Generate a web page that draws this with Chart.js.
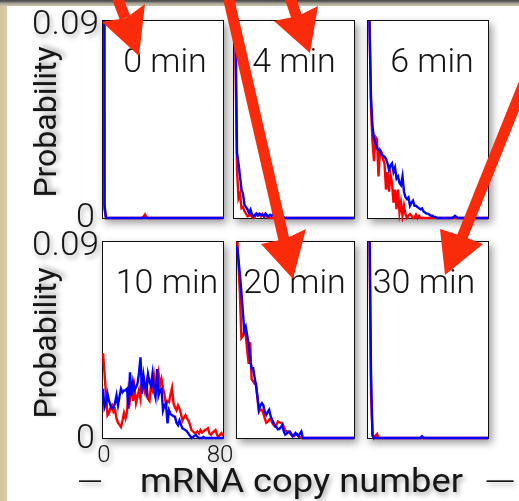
<!DOCTYPE html>
<html>
<head>
<meta charset="utf-8">
<script src="https://cdn.jsdelivr.net/npm/chart.js@4.4.1/dist/chart.umd.min.js"></script>
<style>
  html, body { margin: 0; padding: 0; }
  body { width: 519px; height: 501px; overflow: hidden; background: #fff; position: relative; }
  #topbar { position: absolute; left: 0; top: 0; width: 519px; height: 6px;
            background: linear-gradient(#474747 0px, #6a6a6a 2px, #a19b8c 3px, #cdc5ae 6px); }
  #leftbar { position: absolute; left: 0; top: 6px; width: 7px; height: 495px;
             background: linear-gradient(to right, #d2c199, #dccca9); }
  .frame { position: absolute; box-sizing: border-box; border: 1px solid #111; background: #fff;
           box-shadow: 3px 4px 8px rgba(0,0,0,0.4); }
  .frame canvas { position: absolute; left: -1px; top: -1px; }
  #overlay { position: absolute; left: 0; top: 0; }
</style>
</head>
<body>
<div id="topbar"></div>
<div id="leftbar"></div>
<div id="panels"></div>
<svg id="overlay" width="519" height="501" viewBox="0 0 519 501">
  <defs>
    <filter id="soft" x="-30%" y="-30%" width="160%" height="180%">
      <feDropShadow dx="2" dy="3" stdDeviation="2.5" flood-color="#000" flood-opacity="0.35"/>
    </filter>
  </defs>
  <g id="labels" font-family="Roboto, 'Liberation Sans', sans-serif" font-weight="300" fill="#141414"></g>
  <!-- red call-out arrows pasted over the slide -->
  <g id="arrows">
    <g stroke="#f92b0b" stroke-width="11" stroke-linecap="butt">
      <line x1="116" y1="-6" x2="125" y2="18"/>
      <line x1="289" y1="-6" x2="297" y2="18"/>
      <line x1="228" y1="-4" x2="284" y2="240"/>
      <line x1="560" y1="-6" x2="461" y2="240"/>
    </g>
    <g fill="#f92b0b">
      <polygon points="102,22 126,18 145,4 139,56"/>
      <polygon points="274,21 298,16 318,6 310,53"/>
      <polygon points="261,244 285,239 306,229 293,279"/>
      <polygon points="440,229 462,236 483,244 445,275"/>
    </g>
  </g>
</svg>

<script>
// ── DATA ─────────────────────────────────────────────
// x = mRNA copy number 0..80, y = probability (red / blue curves)
const copyNumbers = [];
for (let n = 0; n <= 80; n++) copyNumbers.push(n);

const panelTimes = [0, 4, 6, 10, 20, 30];   // minutes
const yTickLabels = ['0.09', '0'];
const xTickLabels = ['0', '80'];
const yAxisTitle = 'Probability';
const xAxisTitle = 'mRNA copy number';

const red0 = [
  0.9, 0.004, 0, 0, 0, 0, 0, 0, 0, 0,
  0, 0, 0, 0, 0, 0, 0, 0, 0, 0,
  0, 0, 0, 0, 0, 0, 0, 0.0006, 0.0016, 0.0004,
  0, 0, 0, 0, 0, 0, 0, 0, 0, 0,
  0, 0, 0, 0, 0, 0, 0, 0, 0, 0,
  0, 0, 0, 0, 0, 0, 0, 0, 0, 0,
  0, 0, 0, 0, 0, 0, 0, 0, 0, 0,
  0, 0, 0, 0, 0, 0, 0, 0, 0, 0,
  0
];
const blue0 = [
  0.9, 0.006, 0, 0, 0, 0, 0, 0, 0, 0,
  0, 0, 0, 0, 0, 0, 0, 0, 0, 0,
  0, 0, 0, 0, 0, 0, 0, 0, 0, 0,
  0, 0, 0, 0, 0, 0, 0, 0, 0, 0,
  0, 0, 0, 0, 0, 0, 0, 0, 0, 0,
  0, 0, 0, 0, 0, 0, 0, 0, 0, 0,
  0, 0, 0, 0, 0, 0, 0, 0, 0, 0,
  0, 0, 0, 0, 0, 0, 0, 0, 0, 0,
  0
];

const red4 = [
  0.6, 0.07, 0.022, 0.009, 0.011, 0.0045, 0.005, 0.003, 0.002, 0.0008,
  0.001, 0.0015, 0.0005, 0, 0.0005, 0.002, 0.0012, 0.0015, 0.0008, 0.0018,
  0.0005, 0.0012, 0.0005, 0, 0, 0, 0, 0, 0, 0,
  0, 0, 0, 0, 0, 0, 0, 0, 0, 0,
  0, 0, 0, 0, 0, 0, 0, 0, 0, 0,
  0, 0, 0, 0, 0, 0, 0, 0, 0, 0,
  0, 0, 0, 0, 0, 0, 0, 0, 0, 0,
  0, 0, 0, 0, 0, 0, 0, 0, 0, 0,
  0
];
const blue4 = [
  0.7, 0.09, 0.03, 0.025, 0.019, 0.013, 0.011, 0.006, 0.005, 0.004,
  0.0023, 0.0038, 0.0015, 0.0008, 0.0015, 0.002, 0.0012, 0.002, 0.0015, 0.0015,
  0.0008, 0.002, 0.0012, 0.0008, 0.0015, 0.001, 0.0015, 0.0008, 0.0012, 0.0008,
  0.0015, 0.0008, 0.0012, 0.0004, 0, 0, 0, 0, 0, 0,
  0, 0, 0, 0, 0, 0, 0, 0, 0, 0,
  0, 0, 0, 0, 0, 0, 0, 0, 0, 0,
  0, 0, 0, 0, 0, 0, 0, 0, 0, 0,
  0, 0, 0, 0, 0, 0, 0, 0, 0, 0,
  0
];

const red6 = [
  0.15, 0.09, 0.05, 0.035, 0.026, 0.037, 0.036, 0.019, 0.031, 0.03,
  0.027, 0.025, 0.013, 0.021, 0.012, 0.02, 0.016, 0.007, 0.013, 0.004,
  0.013, 0.0025, 0.007, 0.001, 0.0056, 0.0018, 0, 0.001, 0.0018, 0.001,
  0, 0, 0.0015, 0, 0.001, 0, 0, 0, 0, 0,
  0, 0, 0, 0, 0, 0, 0, 0, 0, 0,
  0, 0, 0, 0, 0, 0, 0, 0, 0, 0,
  0, 0, 0, 0, 0, 0, 0, 0, 0, 0,
  0, 0, 0, 0, 0, 0, 0, 0, 0, 0,
  0
];
const blue6 = [
  0.15, 0.088, 0.055, 0.042, 0.036, 0.034, 0.032, 0.031, 0.031, 0.029,
  0.0285, 0.028, 0.027, 0.025, 0.022, 0.024, 0.025, 0.021, 0.023, 0.018,
  0.019, 0.016, 0.015, 0.019, 0.012, 0.0095, 0.0086, 0.0094, 0.0056, 0.007,
  0.0079, 0.0056, 0.0056, 0.005, 0.0044, 0.004, 0.0044, 0.003, 0.0025, 0.002,
  0.002, 0.0015, 0.001, 0.001, 0.0005, 0.0005, 0, 0, 0, 0,
  0, 0, 0, 0, 0, 0, 0, 0.0004, 0.001, 0.0004,
  0, 0, 0, 0, 0, 0, 0, 0, 0, 0,
  0, 0, 0, 0, 0, 0, 0, 0, 0, 0,
  0
];

const red10 = [
  0.039, 0.030, 0.020, 0.0105, 0.0115, 0.014, 0.015, 0.012, 0.013, 0.009,
  0.007, 0.006, 0.005, 0.008, 0.0115, 0.009, 0.012, 0.022, 0.018, 0.025,
  0.017, 0.023, 0.016, 0.019, 0.022, 0.018, 0.028, 0.024, 0.021, 0.025,
  0.018, 0.017, 0.024, 0.022, 0.028, 0.021, 0.026, 0.030, 0.024, 0.027,
  0.023, 0.020, 0.015, 0.017, 0.0165, 0.020, 0.023, 0.016, 0.014, 0.0127,
  0.015, 0.0135, 0.011, 0.008, 0.0095, 0.0105, 0.009, 0.008, 0.006, 0.0036,
  0.003, 0.0023, 0.0025, 0.003, 0.002, 0.0036, 0.0025, 0.003, 0.0038, 0.004,
  0.0045, 0.002, 0.0014, 0.0025, 0.003, 0.0036, 0.0015, 0.0006, 0.0015, 0.0023,
  0.001
];
const blue10 = [
  0.0226, 0.014, 0.016, 0.0203, 0.017, 0.015, 0.0135, 0.014, 0.016, 0.0196,
  0.015, 0.019, 0.0226, 0.021, 0.0218, 0.022, 0.0226, 0.0135, 0.0302, 0.0196,
  0.0256, 0.022, 0.0233, 0.025, 0.030, 0.037, 0.0203, 0.0287, 0.024, 0.021,
  0.0294, 0.026, 0.024, 0.0294, 0.022, 0.0188, 0.0317, 0.0196, 0.022, 0.0226,
  0.0127, 0.015, 0.0158, 0.0067, 0.0127, 0.011, 0.0105, 0.010, 0.0097, 0.007,
  0.0059, 0.008, 0.006, 0.0044, 0.004, 0.0036, 0.003, 0.002, 0.001, 0,
  0.0005, 0.001, 0.0014, 0.0005, 0, 0, 0, 0.0005, 0, 0,
  0, 0, 0, 0, 0, 0, 0, 0, 0, 0,
  0
];

const red20 = [
  0.095, 0.080, 0.066, 0.046, 0.047, 0.049, 0.047, 0.040, 0.034, 0.044,
  0.027, 0.026, 0.025, 0.025, 0.018, 0.012, 0.013, 0.013, 0.0114, 0.009,
  0.007, 0.0075, 0.0085, 0.009, 0.007, 0.006, 0.0053, 0.006, 0.0076, 0.0072,
  0.007, 0.0068, 0.005, 0.0035, 0.003, 0.0028, 0.0023, 0.0015, 0.001, 0.0008,
  0.0015, 0.0018, 0.001, 0.0005, 0.0003, 0, 0, 0, 0, 0,
  0, 0, 0, 0, 0, 0, 0, 0, 0, 0,
  0, 0, 0, 0, 0, 0, 0, 0, 0, 0,
  0, 0, 0, 0, 0, 0, 0, 0, 0, 0,
  0
];
const blue20 = [
  0.088, 0.082, 0.075, 0.067, 0.058, 0.049, 0.051, 0.047, 0.043, 0.036,
  0.032, 0.032, 0.028, 0.024, 0.019, 0.013, 0.015, 0.016, 0.015, 0.012,
  0.0106, 0.012, 0.013, 0.010, 0.0083, 0.007, 0.0055, 0.005, 0.004, 0.0042,
  0.005, 0.006, 0.003, 0.0015, 0.002, 0.0028, 0.003, 0.002, 0.0008, 0.0015,
  0.0023, 0.0015, 0.0008, 0.002, 0.003, 0, 0, 0, 0, 0,
  0, 0, 0, 0, 0, 0, 0, 0, 0, 0,
  0, 0, 0, 0, 0, 0, 0, 0, 0, 0,
  0, 0, 0, 0, 0, 0, 0, 0, 0, 0,
  0
];

const red30 = [
  0.6, 0.09, 0.02, 0.002, 0, 0.001, 0.0018, 0, 0, 0,
  0, 0, 0, 0, 0, 0, 0, 0, 0, 0,
  0, 0, 0, 0, 0, 0, 0, 0, 0, 0,
  0, 0, 0, 0, 0, 0, 0, 0, 0, 0,
  0, 0, 0, 0, 0, 0, 0, 0, 0, 0,
  0, 0, 0, 0, 0, 0, 0, 0, 0, 0,
  0, 0, 0, 0, 0, 0, 0, 0, 0, 0,
  0, 0, 0, 0, 0, 0, 0, 0, 0, 0,
  0
];
const blue30 = [
  0.6, 0.1, 0.03, 0.001, 0, 0, 0, 0, 0, 0,
  0, 0, 0, 0, 0, 0, 0, 0, 0, 0,
  0, 0, 0, 0, 0, 0, 0, 0, 0, 0,
  0, 0, 0, 0, 0, 0, 0.0008, 0, 0, 0,
  0, 0, 0, 0, 0, 0, 0, 0, 0, 0,
  0, 0, 0, 0, 0, 0, 0, 0, 0, 0,
  0, 0, 0, 0, 0, 0, 0, 0, 0, 0,
  0, 0, 0, 0, 0, 0, 0, 0, 0, 0,
  0
];

const redSeries = [red0, red4, red6, red10, red20, red30];
const blueSeries = [blue0, blue4, blue6, blue10, blue20, blue30];

// ── LAYOUT (outer frame boxes, px) ───────────────────
const frames = [
  { left: 102, top: 20,  w: 122, h: 199, titleDx: 2 },
  { left: 233, top: 20,  w: 122, h: 199, titleDx: 0 },
  { left: 367, top: 20,  w: 122, h: 199, titleDx: 4 },
  { left: 102, top: 241, w: 122, h: 198, titleDx: 4 },
  { left: 236, top: 241, w: 119, h: 198, titleDx: -1 },
  { left: 367, top: 241, w: 122, h: 198, titleDx: -4 }
];

const Y_MAX = 0.09;

// ── PANELS ───────────────────────────────────────────
const holder = document.getElementById('panels');

frames.forEach((f, i) => {
  const box = document.createElement('div');
  box.className = 'frame';
  Object.assign(box.style, {
    left: f.left + 'px', top: f.top + 'px', width: f.w + 'px', height: f.h + 'px'
  });
  const cv = document.createElement('canvas');
  cv.width = f.w;
  cv.height = f.h + 3;               // a little room so the zero line is not cut
  cv.style.width = f.w + 'px';
  cv.style.height = (f.h + 3) + 'px';
  box.appendChild(cv);
  holder.appendChild(box);

  const lineClip = { left: 2, top: 0, right: 2, bottom: 4 };

  new Chart(cv, {
    type: 'line',
    data: {
      labels: copyNumbers,
      datasets: [
        { data: blueSeries[i], borderColor: '#0000ff', order: 1, clip: lineClip },
        { data: redSeries[i],  borderColor: '#ff0000', order: 2, clip: lineClip }
      ]
    },
    options: {
      responsive: false,
      animation: false,
      events: [],
      layout: { padding: { left: 1, top: 1, right: 1, bottom: 4 } },
      plugins: { legend: { display: false }, tooltip: { enabled: false } },
      scales: {
        x: { display: false },
        y: { display: false, min: 0, max: Y_MAX }
      },
      elements: {
        point: { radius: 0 },
        line: { borderWidth: 2.4, tension: 0 }
      }
    }
  });
});

// ── TEXT ─────────────────────────────────────────────
const NS = 'http://www.w3.org/2000/svg';
const labels = document.getElementById('labels');

function addText(str, attrs) {
  const t = document.createElementNS(NS, 'text');
  for (const k in attrs) t.setAttribute(k, attrs[k]);
  t.textContent = str;
  labels.appendChild(t);
  return t;
}

// panel titles
frames.forEach((f, i) => {
  addText(panelTimes[i] + ' min', {
    x: f.left + f.w / 2 + f.titleDx, y: f.top + 52,
    'text-anchor': 'middle', 'font-size': 34
  });
});

// y ticks + y title, once per row
[frames[0], frames[3]].forEach(f => {
  addText(yTickLabels[0], {
    x: 32, y: f.top + 14, 'font-size': 33, textLength: 67,
    lengthAdjust: 'spacingAndGlyphs', filter: 'url(#soft)'
  });
  addText(yTickLabels[1], {
    x: 76, y: f.top + 207, 'font-size': 34, filter: 'url(#soft)'
  });
  addText(yAxisTitle, {
    x: 0, y: 0, 'font-size': 32, 'text-anchor': 'middle', 'font-weight': 400,
    transform: `translate(56 ${f.top + 102}) rotate(-90)`, filter: 'url(#soft)'
  });
});

// x ticks under the 10 min panel
const xf = frames[3];
addText(xTickLabels[0], { x: xf.left + 2, y: xf.top + xf.h + 23, 'font-size': 24, 'text-anchor': 'middle', filter: 'url(#soft)' });
addText(xTickLabels[1], { x: xf.left + xf.w - 4, y: xf.top + xf.h + 23, 'font-size': 24, 'text-anchor': 'middle', filter: 'url(#soft)' });

// x title with the dashes on both sides
addText(xAxisTitle, {
  x: 140, y: 492, 'font-size': 34, textLength: 323, 'font-weight': 400,
  lengthAdjust: 'spacingAndGlyphs', filter: 'url(#soft)'
});
addText('\u2014', { x: 77, y: 493, 'font-size': 34, textLength: 26, lengthAdjust: 'spacingAndGlyphs', filter: 'url(#soft)' });
addText('\u2014', { x: 484, y: 493, 'font-size': 34, textLength: 32, lengthAdjust: 'spacingAndGlyphs', filter: 'url(#soft)' });
</script>
</body>
</html>
